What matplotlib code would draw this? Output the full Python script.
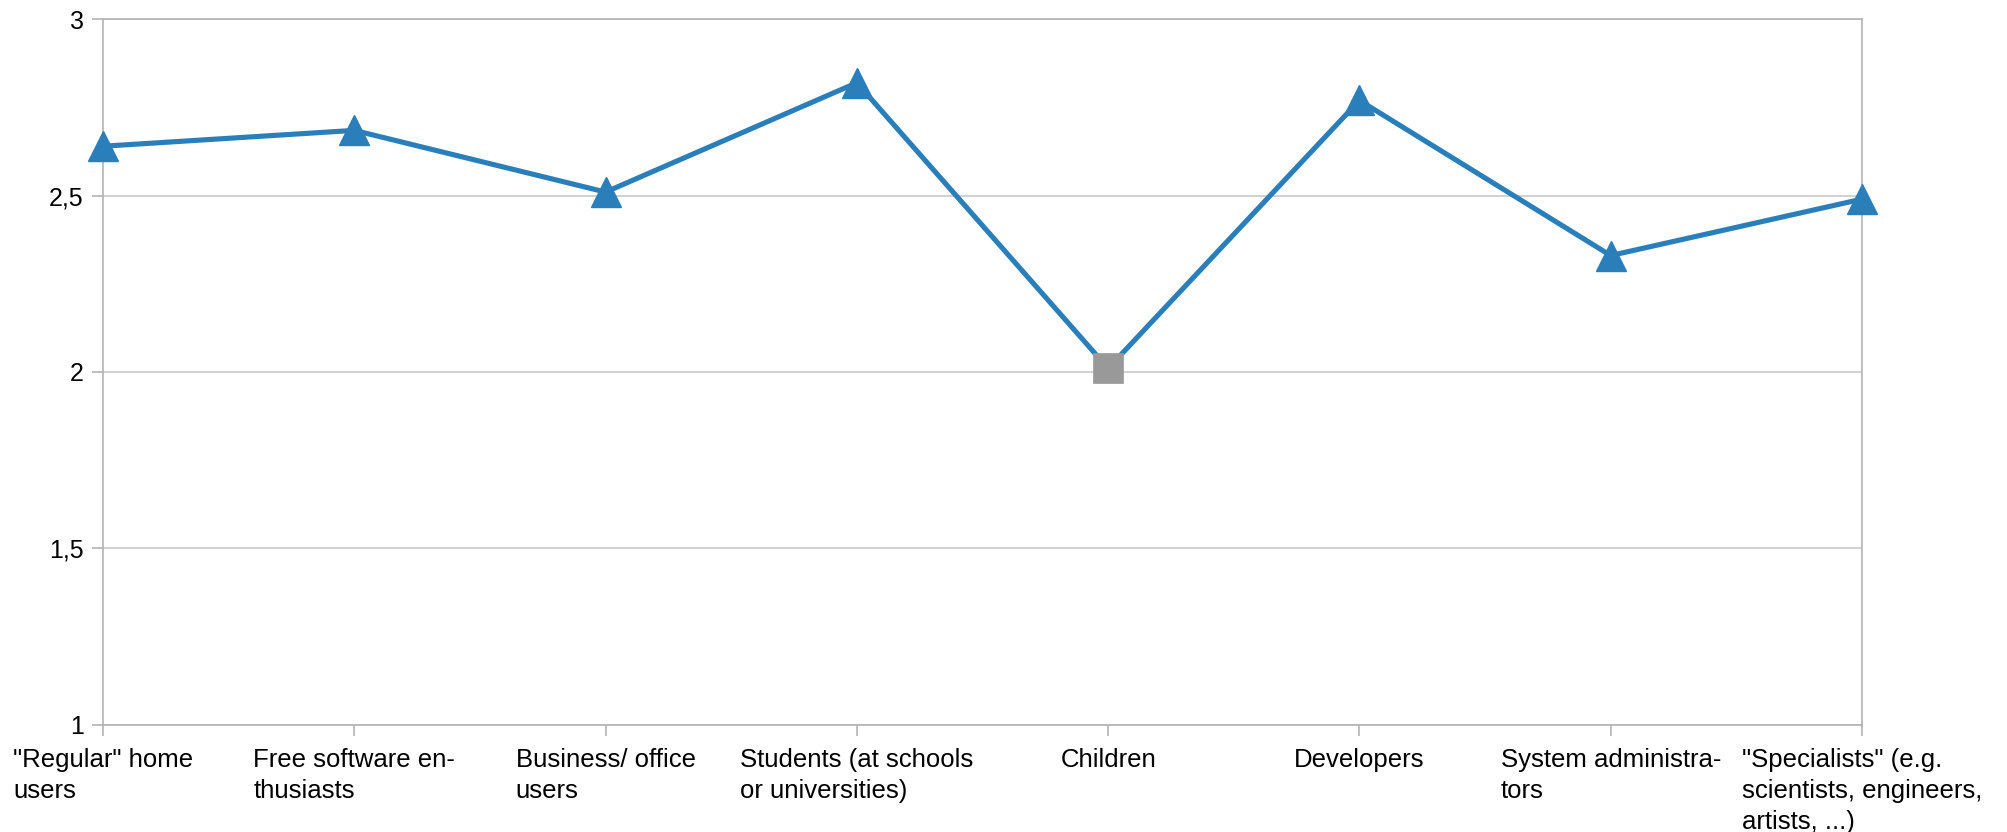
import matplotlib
matplotlib.use("Agg")
import matplotlib.pyplot as plt
import numpy as np

categories = ['"Regular" home\nusers', 'Free software en-\nthusiasts', 'Business/ office\nusers',
              'Students (at schools\nor universities)', 'Children', 'Developers',
              'System administra-\ntors', '"Specialists" (e.g.\nscientists, engineers,\nartists, ...)']
values = [2.64, 2.685, 2.51, 2.82, 2.01, 2.77, 2.33, 2.49]
highlight = ['Children']
y_ticks = [1, 1.5, 2, 2.5, 3]
y_tick_labels = ['1', '1,5', '2', '2,5', '3']

plt.rcParams['font.family'] = ['Liberation Sans', 'DejaVu Sans']

W, H = 2007, 832
fig = plt.figure(figsize=(W / 100, H / 100), dpi=100)
ax = fig.add_axes([103 / W, 1 - 724.5 / H, (1862 - 103) / W, (724.5 - 19.3) / H])

x = np.arange(len(categories))
vals = np.array(values)
blue = '#2a7fba'
gray = '#999999'

ax.plot(x, vals, color=blue, lw=3.7, zorder=3, clip_on=False, solid_joinstyle='miter')
is_hl = np.array([c.split('\n')[0] in highlight for c in categories])
ax.plot(x[~is_hl], vals[~is_hl], ls='none', marker='^', ms=21.5, color=blue, mec=blue,
        mew=1, zorder=4, clip_on=False)
ax.plot(x[is_hl], vals[is_hl], ls='none', marker='s', ms=22, color=gray, mec=gray,
        mew=0.5, zorder=4, clip_on=False)

ax.set_xlim(0, len(categories) - 1)
ax.set_ylim(1, 3)
ax.set_yticks(y_ticks)
ax.set_yticklabels(y_tick_labels)
ax.set_xticks(x)
ax.set_xticklabels(categories, ha='center', multialignment='left', linespacing=1.37)
ax.tick_params(axis='both', colors='#b3b3b3', labelcolor='black',
               length=8, width=1.2)
ax.tick_params(axis='x', pad=9, labelsize=18.5)
ax.tick_params(axis='y', pad=6, labelsize=18)
ax.grid(axis='y', color='#c8c8c8', lw=1.2, zorder=0)
for s in ax.spines.values():
    s.set_color('#b3b3b3')
    s.set_linewidth(1.2)
ax.set_axisbelow(True)

fig.savefig('out.png', dpi=100)
